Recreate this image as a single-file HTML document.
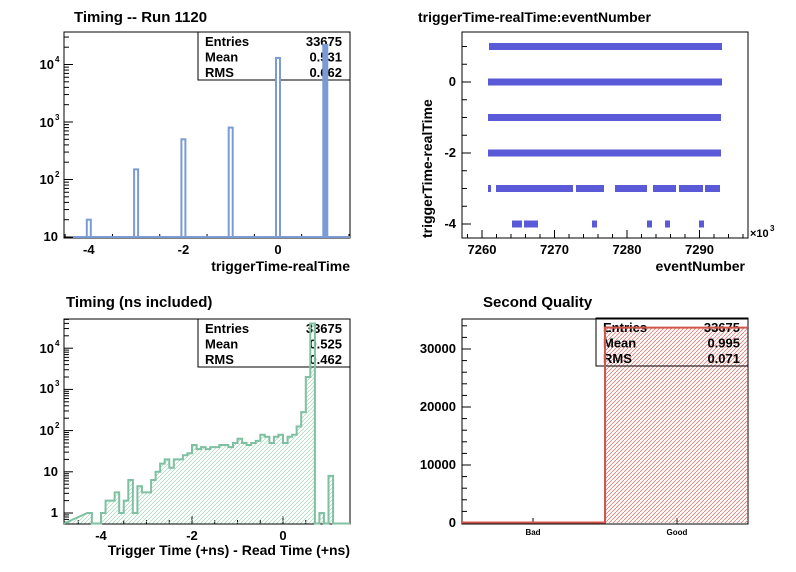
<!DOCTYPE html>
<html><head><meta charset="utf-8">
<style>
html,body{margin:0;padding:0;background:#fff;}
svg{display:block;font-family:"Liberation Sans",Arial,sans-serif;font-weight:bold;}
</style></head>
<body>
<svg id="s" width="796" height="572" viewBox="0 0 796 572" xmlns="http://www.w3.org/2000/svg">
<defs>
<pattern id="hg" width="4" height="4" patternUnits="userSpaceOnUse">
<path d="M0,4 L4,0" stroke="#a6d6bc" stroke-width="0.7"/>
</pattern>
<pattern id="hr" width="4" height="4" patternUnits="userSpaceOnUse">
<path d="M0,4 L4,0" stroke="#e07c76" stroke-width="0.8"/>
</pattern>
</defs>
<g id="g"></g>
</svg>
<script>
var g=document.getElementById('g'),out='';
function L(x1,y1,x2,y2,c,w){out+='<line x1="'+x1+'" y1="'+y1+'" x2="'+x2+'" y2="'+y2+'" stroke="'+(c||'#000')+'" stroke-width="'+(w||1)+'"/>';}
function T(x,y,t,s,a){out+='<text x="'+x+'" y="'+y+'" font-size="'+s+'" text-anchor="'+(a||'start')+'">'+t+'</text>';}
function R(x,y,w,h,f,st,sw){out+='<rect x="'+x+'" y="'+y+'" width="'+w+'" height="'+h+'" fill="'+f+'"'+(st?' stroke="'+st+'" stroke-width="'+(sw||1)+'"':'')+'/>';}
function stats(x,y,v,bg){R(x,y,152,48,bg||'#fff','#000',1);
 var n=['Entries','Mean','RMS'];for(var i=0;i<3;i++){T(x+7,y+14+i*15.5,n[i],13);T(x+144,y+14+i*15.5,v[i],13,'end');}}
/* ---- Panel 1 ---- */
T(74,22,'Timing -- Run 1120',15);
R(64,32,286,206,'#fff','#000',1);
var yb1=237,p1=57.5;
for(var d=0;d<5;d++){for(var k=1;k<10;k++){var y=yb1-(d-1+Math.log10(k))*p1;if(y<32||y>238)continue;L(64,y,64+(k==1?9:5),y);}}
T(58,241,'10',13,'end');
[[2,180],[3,123],[4,65]].forEach(function(a){T(54,a[1]+4,'10',13,'end');T(55,a[1]-3,a[0],8);});
var xs=47.3,x0=278;
for(var v=-4.5;v<=1.5;v+=0.5){var xx=x0+v*xs; if(xx<64||xx>350)continue; var maj=Math.abs(v-Math.round(v))<0.01&&Math.round(v)%2==0; L(xx,238,xx,238-(maj?8:4));}
[[-4,'-4'],[-2,'-2'],[0,'0']].forEach(function(a){T(x0+a[0]*xs,254,a[1],13,'middle');});
T(350,271,'triggerTime-realTime',14,'end');
stats(198,32,['33675','0.531','0.662']);
L(73,237,350,237,'#7b9bd6',2);
[[-4,20],[-3,150],[-2,500],[-1,800],[0,13000],[1,22000]].forEach(function(b){var xx=x0+b[0]*xs-2;var y=yb1-(Math.log10(b[1])-1)*p1;
 R(xx,y,4,yb1-y,b[0]==1?'#7b9bd6':'#fff','#7b9bd6',2);});
/* ---- Panel 2 ---- */
T(418,22,'triggerTime-realTime:eventNumber',14);
R(462,32,286,206,'#fff','#000',1);
function ym(v){return 82-v*35.5;}
for(var v=-4.5;v<=1.5;v+=0.5){var y=ym(v);if(y<32||y>238)continue;L(462,y,462+(Math.abs(v-Math.round(v))<0.01&&Math.round(v)%2==0?9:5),y);}
[[0,'0'],[-2,'-2'],[-4,'-4']].forEach(function(a){T(456,ym(a[0])+4,a[1],13,'end');});
function xm(v){return 482+(v-7260)*7.25;}
for(var v=7258;v<=7299;v+=2){var xx=xm(v);if(xx<462||xx>748)continue;L(xx,238,xx,238-(v%10==0?8:4));}
[7260,7270,7280,7290].forEach(function(v){T(xm(v),254,v,13,'middle');});
T(750,237,'×10',11);T(770,231,'3',8);
T(745,271,'eventNumber',14,'end');
out+='<text transform="translate(432,238) rotate(-90)" x="0" y="0" font-size="14">triggerTime-realTime</text>';
var col='#5a5ad8';
[[1,489,722],[0,488,722],[-1,488,721],[-2,488,721]].forEach(function(a){R(a[1],ym(a[0])-3.5,a[2]-a[1],7,col);});
[[488,491],[496,573],[576,604],[615,647],[653,676],[679,703],[705,720]].forEach(function(a){R(a[0],ym(-3)-3.5,a[1]-a[0],7,col);});
[[512,522],[524,538],[592,597],[647,652],[665,670],[699,704]].forEach(function(a){R(a[0],ym(-4)-3.5,a[1]-a[0],7,col);});
/* ---- Panel 3 ---- */
T(66,307,'Timing (ns included)',15);
R(64,319,286,205,'#fff','#000',1);
var yb3=513,p3=41.2;
for(var d=-1;d<5;d++){for(var k=1;k<10;k++){var y=yb3-(d+Math.log10(k))*p3;if(y<319||y>524)continue;L(64,y,64+(k==1?9:5),y);}}
T(58,517,'1',13,'end');T(58,476,'10',13,'end');
[[2,431],[3,389],[4,349]].forEach(function(a){T(54,a[1]+4,'10',13,'end');T(55,a[1]-3,a[0],8);});
var x3=283,s3=45.5;
for(var v=-4.5;v<=1.5;v+=0.5){var xx=x3+v*s3;if(xx<64||xx>350)continue;var maj=Math.abs(v-Math.round(v))<0.01&&Math.round(v)%2==0;L(xx,524,xx,524-(maj?8:4));}
[[-4,'-4'],[-2,'-2'],[0,'0']].forEach(function(a){T(x3+a[0]*s3,540,a[1],13,'middle');});
T(350,555,'Trigger Time (+ns) - Read Time (+ns)',14,'end');
var bins=[[-4.3,0],[-4.2,null],[-4.1,null],[-4.0,0],[-3.9,0.3],[-3.8,0.3],[-3.7,0.5],[-3.6,0],[-3.5,0.3],[-3.4,0.8],[-3.3,0],[-3.2,0.65],[-3.1,0.5],[-3.0,0.5],[-2.9,0.8],[-2.8,1.0],[-2.7,1.2],[-2.6,1.3],[-2.5,1.1],[-2.4,1.3],[-2.3,1.3],[-2.2,1.4],[-2.1,1.45],[-2.0,1.65],[-1.9,1.55],[-1.8,1.6],[-1.7,1.55],[-1.6,1.6],[-1.5,1.6],[-1.4,1.65],[-1.3,1.65],[-1.2,1.6],[-1.1,1.7],[-1.0,1.8],[-0.9,1.7],[-0.8,1.65],[-0.7,1.7],[-0.6,1.75],[-0.5,1.9],[-0.4,1.85],[-0.3,1.7],[-0.2,1.85],[-0.1,1.9],[0.0,1.7],[0.1,1.85],[0.2,1.9],[0.3,2.1],[0.4,2.45],[0.5,3.3],[0.6,4.6],[0.7,null],[0.8,0],[0.9,null],[1.0,0.9],[1.1,null]];
var base=523.5,gc='#7fc0a0';
var d3='M64,'+base;
bins.forEach(function(b){var xa=x3+b[0]*s3,xb=xa+s3*0.1;var y=b[1]===null?base:yb3-b[1]*p3;d3+=' L'+xa.toFixed(1)+','+y.toFixed(1)+' L'+xb.toFixed(1)+','+y.toFixed(1);});
d3+=' L350,'+base;
out+='<path d="'+d3+' Z" fill="url(#hg)" stroke="none"/>';
stats(198,319,['33675','0.525','0.462']);
out+='<path d="'+d3+'" fill="none" stroke="'+gc+'" stroke-width="2"/>';
/* ---- Panel 4 ---- */
T(483,307,'Second Quality',15);
R(462,319,286,205,'#fff','#000',1);
function yq(v){return 523-v*0.0058;}
for(var v=0;v<=35000;v+=2000){var y=yq(v);if(y<319)continue;L(462,y,462+(v%10000==0?9:5),y);}
[0,10000,20000,30000].forEach(function(v){T(456,yq(v)+4,v,13,'end');});
L(533,524,533,518);L(677,524,677,518);
T(533,535,'Bad',8,'middle');T(677,535,'Good',8,'middle');
R(605,yq(33675),143,523-yq(33675),'url(#hr)');
stats(596,318,['33675','0.995','0.071'],'none');
out+='<path d="M462,522.5 L605,522.5 L605,'+yq(33675)+' L748,'+yq(33675)+'" fill="none" stroke="#d0564c" stroke-width="2"/>';
g.innerHTML=out;
</script>
</body></html>
